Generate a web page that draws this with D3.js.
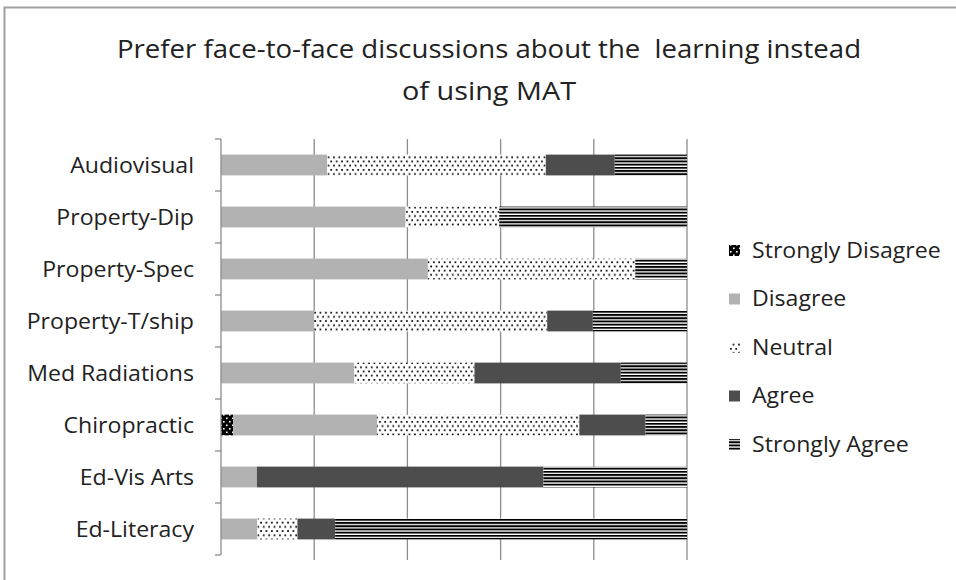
<!DOCTYPE html>
<html><head><meta charset="utf-8">
<script src="https://cdn.jsdelivr.net/npm/d3@7"></script>
<style>body{margin:0;background:#fff}svg{display:block}</style>
</head><body>
<svg id="c" width="956" height="580"></svg>
<script>
const title1 = "Prefer face-to-face discussions about the\u00a0 learning instead";
const title2 = "of using MAT";
const categories = ["Audiovisual","Property-Dip","Property-Spec","Property-T/ship","Med Radiations","Chiropractic","Ed-Vis Arts","Ed-Literacy"];
const seriesNames = ["Strongly Disagree","Disagree","Neutral","Agree","Strongly Agree"];
const stronglyDisagree = [0, 0, 0, 0, 0, 2.6, 0, 0];
const disagree         = [22.8, 39.6, 44.4, 20, 28.6, 30.9, 7.7, 7.8];
const neutral          = [46.9, 20.1, 44.5, 50, 25.8, 43.4, 0, 8.6];
const agree            = [14.8, 0, 0, 9.8, 31.4, 14.2, 61.5, 8.1];
const stronglyAgree    = [15.5, 40.3, 11.1, 20.2, 14.2, 8.9, 30.8, 75.5];
const xTicks = [0, 20, 40, 60, 80, 100];

const seriesValues = [stronglyDisagree, disagree, neutral, agree, stronglyAgree];
const rows = categories.map((c, i) => {
  const r = {cat: c};
  seriesNames.forEach((s, j) => r[s] = seriesValues[j][i]);
  return r;
});

const svg = d3.select("#c");
const defs = svg.append("defs");

// patterns
const pSD = defs.append("pattern").attr("id","pSD").attr("patternUnits","userSpaceOnUse").attr("width",6).attr("height",7);
pSD.append("rect").attr("width",6).attr("height",7).attr("fill","#000");
pSD.append("rect").attr("x",1).attr("y",1).attr("width",1.6).attr("height",1.6).attr("fill","#fff");
pSD.append("rect").attr("x",4).attr("y",4.5).attr("width",1.6).attr("height",1.6).attr("fill","#fff");

const pN = defs.append("pattern").attr("id","pN").attr("patternUnits","userSpaceOnUse").attr("width",5.4).attr("height",8.4);
pN.append("rect").attr("width",5.4).attr("height",8.4).attr("fill","#fff");
pN.append("rect").attr("x",1).attr("y",1).attr("width",1.7).attr("height",1.7).attr("fill","#000");
pN.append("rect").attr("x",3.7).attr("y",5.2).attr("width",1.7).attr("height",1.7).attr("fill","#000");

const pSA = defs.append("pattern").attr("id","pSA").attr("patternUnits","userSpaceOnUse").attr("width",8).attr("height",3.2).attr("y",0.5);
pSA.append("rect").attr("width",8).attr("height",3.2).attr("fill","#fff");
pSA.append("rect").attr("width",8).attr("height",1.9).attr("fill","#000");

const fills = {"Strongly Disagree":"url(#pSD)","Disagree":"#b2b2b2","Neutral":"url(#pN)","Agree":"#4d4d4d","Strongly Agree":"url(#pSA)"};

// outer frame
svg.append("rect").attr("x",4.5).attr("y",7.5).attr("width",1000).attr("height",1000)
  .attr("fill","none").attr("stroke","#a0a0a0").attr("stroke-width",2);

const font = "'Open Sans', sans-serif";

svg.append("text").attr("x",489).attr("y",58).attr("text-anchor","middle")
  .attr("font-family",font).attr("font-size",25.5).attr("fill","#222")
  .attr("textLength",744).attr("lengthAdjust","spacingAndGlyphs").text(title1);
svg.append("text").attr("x",489).attr("y",100).attr("text-anchor","middle")
  .attr("font-family",font).attr("font-size",25.5).attr("fill","#222")
  .attr("textLength",174).attr("lengthAdjust","spacingAndGlyphs").text(title2);

const x = d3.scaleLinear().domain([0,100]).range([221,687]);
const y = d3.scaleBand().domain(categories).range([139,555]).paddingInner(0.6).paddingOuter(0.3);
const yOuter = d3.scaleBand().domain(categories).range([139,555]);

// gridlines
svg.append("g").selectAll("line").data(xTicks.slice(1)).join("line")
  .attr("x1",d=>x(d)).attr("x2",d=>x(d)).attr("y1",139).attr("y2",560)
  .attr("stroke","#8c8c8c").attr("stroke-width",1.3);

// stacked bars
const stack = d3.stack().keys(seriesNames);
const layers = stack(rows);
svg.append("g").selectAll("g").data(layers).join("g")
  .attr("fill", d => fills[d.key])
  .selectAll("rect").data(d => d).join("rect")
  .attr("x", d => x(d[0]))
  .attr("width", d => Math.max(0, x(d[1]) - x(d[0])))
  .attr("y", d => y(d.data.cat))
  .attr("height", y.bandwidth());

// y axis
const yAxis = svg.append("g").attr("transform","translate(221,0)");
yAxis.append("line").attr("x1",0).attr("x2",0).attr("y1",139).attr("y2",555).attr("stroke","#8c8c8c").attr("stroke-width",1.3);
const tickYs = categories.map(c => yOuter(c)).concat([555]);
yAxis.selectAll("line.t").data(tickYs).join("line").attr("class","t")
  .attr("x1",-6).attr("x2",0).attr("y1",d=>d).attr("y2",d=>d)
  .attr("stroke","#8c8c8c").attr("stroke-width",1.3);

svg.append("g").selectAll("text").data(categories).join("text")
  .attr("transform", d => `translate(194,${yOuter(d) + yOuter.bandwidth()/2}) scale(1.1,1)`)
  .attr("dy","0.36em").attr("text-anchor","end")
  .attr("font-family",font).attr("font-size",21).attr("fill","#222").text(d=>d);

// legend
const legY = d3.scalePoint().domain(seriesNames).range([250,444]);
const leg = svg.append("g").selectAll("g").data(seriesNames).join("g")
  .attr("transform", d => `translate(729,${legY(d)})`);
leg.append("rect").attr("x",0).attr("y",-5).attr("width",11).attr("height",11)
  .attr("fill", d => fills[d]);
leg.append("text").attr("transform","translate(23,0) scale(1.1,1)").attr("dy","0.36em")
  .attr("font-family",font).attr("font-size",21).attr("fill","#222").text(d=>d);
</script>
</body></html>
